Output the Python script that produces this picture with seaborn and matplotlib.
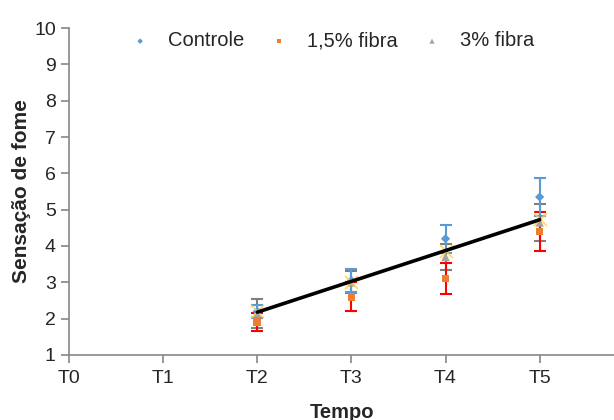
import numpy as np
import pandas as pd
from matplotlib import pyplot as plt
import seaborn as sns

# tempos (T0..T5), dados apenas em T2..T5
tempos = [2, 3, 4, 5]
tick_labels = ['T0', 'T1', 'T2', 'T3', 'T4', 'T5']

controle = [2.2, 3.05, 4.2, 5.35]
controle_err = [0.18, 0.33, 0.38, 0.52]
fibra15 = [1.9, 2.6, 3.1, 4.4]
fibra15_err = [0.25, 0.4, 0.43, 0.53]
fibra3 = [2.15, 3.0, 3.7, 4.65]
fibra3_err = [0.4, 0.3, 0.35, 0.5]
media = [2.2, 3.0, 3.86, 4.74]

sns.set_style('white')
plt.rcParams['font.family'] = ['Liberation Sans', 'DejaVu Sans']

fig = plt.figure(figsize=(6.14, 4.2), dpi=100)
ax = fig.add_axes([0.1124, 0.1548, 0.8876, 0.7785])

#error bars first
ax.errorbar(tempos, fibra3, yerr=fibra3_err, fmt='none', ecolor='#7f7f7f', capsize=4, elinewidth=1.5, capthick=1.5)
ax.errorbar(tempos, fibra15, yerr=fibra15_err, fmt='none', ecolor='#ff0000', capsize=4, elinewidth=1.5, capthick=1.5)
ax.errorbar(tempos, controle, yerr=controle_err, fmt='none', ecolor='#5b9bd5', capsize=4, elinewidth=1.5, capthick=1.5)

sns.scatterplot(x=tempos, y=controle, marker='D', s=22, color='#5b9bd5', edgecolor='none', label='Controle', ax=ax, zorder=3)
sns.scatterplot(x=tempos, y=fibra15, marker='s', s=30, color='#ed7d31', edgecolor='none', label='1,5% fibra', ax=ax, zorder=3)
sns.scatterplot(x=tempos, y=fibra3, marker='^', s=38, color='#a5a5a5', edgecolor='none', label='3% fibra', ax=ax, zorder=3)

# linha de tendencia sobre os pontos amarelos
df = pd.DataFrame({'t': tempos, 'm': media})
sns.regplot(data=df, x='t', y='m', ci=None, marker='x', truncate=True,
            scatter_kws={'color': '#ffd34d', 's': 90, 'linewidths': 1.3, 'zorder': 4},
            line_kws={'color': 'black', 'lw': 2.6, 'zorder': 5}, ax=ax)

ax.set_xlim(0, 5.79)
ax.set_ylim(1, 10)
ax.set_xticks(range(6))
ax.set_xticklabels(tick_labels)
ax.set_yticks(range(1, 11))
for s in ['top', 'right']:
    ax.spines[s].set_visible(False)
for s in ['left', 'bottom']:
    ax.spines[s].set_color('#868686')
    ax.spines[s].set_linewidth(1.2)
ax.tick_params(axis='both', which='major', length=6, width=1.2, color='#868686',
               labelsize=14, labelcolor='#262626', direction='out',
               bottom=True, left=True)
ax.tick_params(axis='x', pad=5)
ax.set_xlabel('Tempo', fontsize=14.5, fontweight='bold', labelpad=11)
ax.set_ylabel('Sensação de fome', fontsize=15, fontweight='bold', labelpad=2)

ax.legend(loc='upper center', bbox_to_anchor=(0.483, 1.045), ncol=3, frameon=False,
          fontsize=14.5, markerscale=0.6, handletextpad=0.9, columnspacing=1.2,
          handlelength=1.0)

plt.savefig('out.png', dpi=100)
